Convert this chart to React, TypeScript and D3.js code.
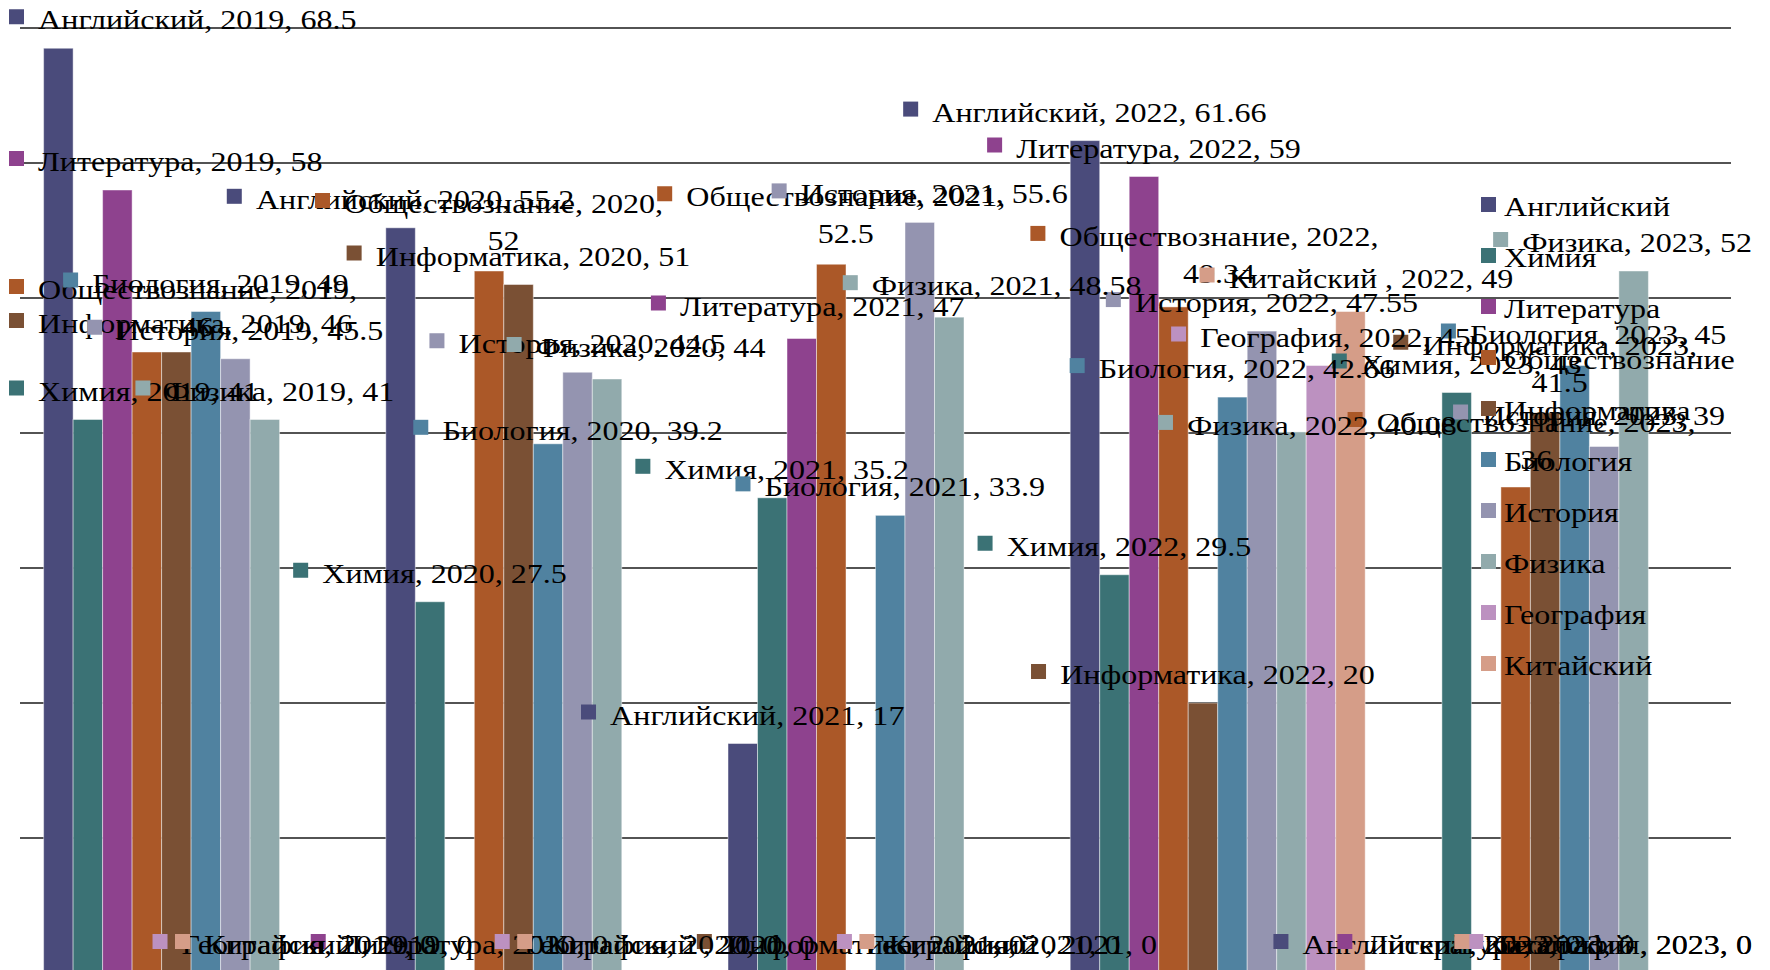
import React from 'react';
import * as d3 from 'd3';

const years = ['2019', '2020', '2021', '2022', '2023'];
const subjects = ['Английский', 'Химия', 'Литература', 'Обществознание', 'Информатика', 'Биология', 'История', 'Физика', 'География', 'Китайский '];
const english = [68.5, 55.2, 17, 61.66, 0];
const chemistry = [41, 27.5, 35.2, 29.5, 43];
const literature = [58, 0, 47, 59, 0];
const social = [46, 52, 52.5, 49.34, 36];
const informatics = [46, 51, 0, 20, 41.5];
const biology = [49, 39.2, 33.9, 42.66, 45];
const history = [45.5, 44.5, 55.6, 47.55, 39];
const physics = [41, 44, 48.58, 40.08, 52];
const geography = [0, 0, 0, 45, 0];
const chinese = [0, 0, 0, 49, 0];
const seriesValues = [english, chemistry, literature, social, informatics, biology, history, physics, geography, chinese];
const colors = ['#4A4B7B', '#3B7275', '#8E428E', '#AB5828', '#7A5034', '#5082A0', '#9494B0', '#91AAAC', '#BC91C0', '#D59D88'];
const gridTicks = [10, 20, 30, 40, 50, 60, 70];
// labels whose value is set on a second line in the reference
const forcedBreaks = ['Информатика|2023'];
// labels that were moved away from their default place in the reference (layout only)
const nudgeKeys = ['Физика|2020', 'Биология|2020', 'Физика|2021', 'Обществознание|2022', 'Физика|2022', 'История|2023', 'Биология|2023', 'Литература|2021', 'Китайский|2022', 'Обществознание|2019', 'Обществознание|2023'];
const nudgeDx = [29, 20, 43, 31, 16, -15, 9, 6, 6, 0, 6];
const nudgeDy = [-3, 15, -3, -3, 22, -3, -3, -4, -5, 5, 3];

const W = 1770;
const H = 970;
const FS = 28;
const SX = 1.145;
const FONT = '"Liberation Serif", "Times New Roman", serif';
const LINE_H = 37;
const MARK = 15;
const MARK_GAP = 14;
const MAX_TEXT_W = 338;

let ctx: CanvasRenderingContext2D | null = null;
function measure(s: string): number {
  if (!ctx) {
    const c = document.createElement('canvas');
    ctx = c.getContext('2d');
  }
  if (!ctx) return s.length * FS * 0.5 * SX;
  ctx.font = `${FS}px "Liberation Serif"`;
  return ctx.measureText(s).width * SX;
}

function wrap(text: string, maxW: number): string[] {
  const words = text.split(' ');
  const lines: string[] = [];
  let cur = '';
  for (const w of words) {
    const cand = cur ? cur + ' ' + w : w;
    if (cur && measure(cand) > maxW) {
      lines.push(cur);
      cur = w;
    } else {
      cur = cand;
    }
  }
  if (cur) lines.push(cur);
  return lines;
}

export default function App() {
  const x0 = d3.scaleBand<string>().domain(years).range([20, 1731]).paddingInner(0.138).paddingOuter(0.069);
  const x1 = d3.scaleBand<string>().domain(subjects).range([0, x0.bandwidth()]);
  const y = d3.scaleLinear().domain([0, 70]).range([973, 28]);

  const bars: React.ReactNode[] = [];
  const labels: React.ReactNode[] = [];
  subjects.forEach((s, si) => {
    seriesValues[si].forEach((v, yi) => {
      const yr = years[yi];
      const bx = (x0(yr) || 0) + (x1(s) || 0);
      const bw = x1.bandwidth();
      const top = y(v);
      bars.push(
        <rect key={`b-${si}-${yi}`} x={bx} y={top} width={bw} height={Math.max(0, y(0) - top)}
          fill={colors[si]} stroke="rgba(255,255,255,0.45)" strokeWidth={1} />
      );
      const key = `${s.trim()}|${yr}`;
      const text = `${s}, ${yr}, ${v}`;
      const forced = forcedBreaks.includes(key);
      const lines = forced ? [`${s}, ${yr},`, `${v}`] : wrap(text, MAX_TEXT_W);
      const tw = Math.max(...lines.map(measure));
      const boxW = MARK + MARK_GAP + tw;
      const cx = bx + bw / 2;
      let left = cx - boxW / 2;
      if (left < 9) left = 9;
      if (left + boxW > 1752) left = 1752 - boxW;
      const ni = nudgeKeys.indexOf(key);
      const dx = ni >= 0 ? nudgeDx[ni] : 0;
      const dy = ni >= 0 ? nudgeDy[ni] : 0;
      left += dx;
      const lastBase = top - (lines.length > 1 ? 21 : 19) + dy;
      const firstBase = lastBase - (lines.length - 1) * LINE_H;
      const textMid = left + MARK + MARK_GAP + tw / 2;
      labels.push(
        <g key={`l-${si}-${yi}`}>
          <rect x={left} y={firstBase - 20} width={MARK} height={MARK} fill={colors[si]} />
          {lines.map((ln, li) => (
            <text key={li} transform={`translate(${textMid},${firstBase + li * LINE_H}) scale(${SX},1)`}
              textAnchor="middle" fontFamily={FONT} fontSize={FS} fill="#000">{ln}</text>
          ))}
        </g>
      );
    });
  });

  return (
    <svg width={W} height={H} style={{ position: 'absolute', left: 0, top: 0, background: '#fff' }}>
      <rect x={0} y={0} width={W} height={H} fill="#fff" />
      {gridTicks.map((t) => (
        <line key={t} x1={20} x2={1731} y1={y(t)} y2={y(t)} stroke="#1a1a1a" strokeWidth={1.6} />
      ))}
      {bars}
      {labels}
      {subjects.map((s, i) => (
        <g key={`lg-${i}`}>
          <rect x={1481} y={204.5 + 51 * i - 7.5} width={MARK} height={MARK} fill={colors[i]} />
          <text transform={`translate(1504,${204.5 + 51 * i + 11}) scale(${SX},1)`}
            fontFamily={FONT} fontSize={FS} fill="#000">{s}</text>
        </g>
      ))}
    </svg>
  );
}
